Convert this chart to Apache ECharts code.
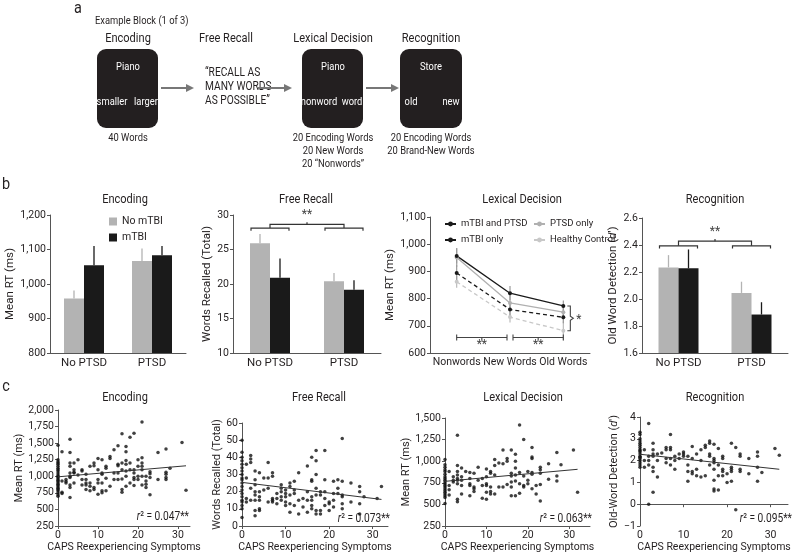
<!DOCTYPE html>
<html><head><meta charset="utf-8">
<script src="https://cdn.jsdelivr.net/npm/echarts@6/dist/echarts.min.js"></script>
<style>html,body{margin:0;padding:0;background:#fff}#c{width:795px;height:557px}</style>
</head><body><div id="c"></div>
<script>
const FONT = 'Roboto, "Liberation Sans", sans-serif';
const INK = '#231f20';
const GRAY = '#b3b3b3';
const BAR_W = 20;
const SQUEEZE = 0.85;

const groupCats = ['No PTSD', 'PTSD'];
const encNoTBI = [958, 1067];
const encNoTBIUpper = [981, 1103];
const encTBI = [1054, 1083];
const encTBIUpper = [1110, 1110];

const recallNoTBI = [25.9, 20.4];
const recallNoTBIUpper = [27.25, 21.6];
const recallTBI = [20.9, 19.15];
const recallTBIUpper = [23.7, 20.55];

const recogNoTBI = [2.234, 2.045];
const recogNoTBIUpper = [2.325, 2.128];
const recogTBI = [2.227, 1.885];
const recogTBIUpper = [2.367, 1.976];

const lexCats = ['Nonwords', 'New Words', 'Old Words'];
const lexBoth = [957, 820, 773];
const lexBothSE = [28, 26, 20];
const lexTBIOnly = [894, 760, 731];
const lexTBIOnlySE = [30, 25, 22];
const lexPTSDOnly = [951, 784, 750];
const lexPTSDOnlySE = [35, 30, 30];
const lexHC = [862, 732, 682];
const lexHCSE = [22, 20, 35];

const encodingPts = [
 [0,[1470,1250,1220,1200,1180,1150,1120,1100,1080,1050,1020,1000,980,960,940,920,900,880,860,840,820,800,780,750,720,700]],
 [1,[1370,930,760,740]],[2,[950,920,900]],
 [3,[1560,1360,1200,1150,1050,1000,980,870,830,680]],
 [4,[1200,1100,1060,1050,900]],[5,[1250,1020]],[6,[1100,1080,950,870]],
 [7,[1030,950,900,870,800]],[8,[1150,900,850,780]],[9,[1200,1160,830,800]],
 [10,[1270,1100,950,900,730]],[11,[1250,1050,1030,900,780,750]],[12,[1150,1120,970,780]],
 [13,[1300,1270,850]],[14,[1400,1050,950]],[15,[1460,1180,1160,1050,950]],
 [16,[1640,1200,1100,960,800,760]],[17,[1450,1370,1240,1180,1080,1000,850]],
 [18,[1590,1200,1100,900]],[19,[1650,1100,1050,980,950,860]],[20,[1250,1150,1000,950]],
 [21,[1820,1280,1200,1150,1100,1000,870]],[22,[1000,930,880,830]],[23,[1070,1040,980,720]],
 [25,[1360,950]],[27,[1410,1060,1030,980,950]],[28,[1120]],[31,[1510]],[32,[790]]
];
const recallPts = [
 [0,[50,43,40,38,36,34,32,30,28,27,25,23,21,19,17,15,14,12,10,5]],
 [1,[36,28,16,14]],[2,[41,39,37,22,15]],[3,[32,27,24,20,18,15,9,6]],
 [4,[31,20,17,15,10,9]],[5,[28,21]],[6,[37,28,22,14]],[7,[31,29,16,15,14]],
 [8,[19,16,13]],[9,[24,22,20,17,15]],[10,[21,19,17,14,12]],[11,[25,23,18,13,8]],
 [12,[26,21,19,12]],[13,[31,15,7]],[14,[16,11]],[15,[35,20,15,8]],
 [16,[40,27,26,17,15,12,10]],[17,[44,38,30,22,18,9,7]],[18,[20,18,9,7]],
 [19,[44,27,20,16,12]],[20,[14,13,9]],[21,[26,19,15,11]],[22,[27,22,19]],
 [23,[51,26,18,17,13,10]],[25,[25,14]],[27,[23,20,13,7]],[28,[17]],[31,[16]],[32,[23]]
];
const lexicalPts = [
 [0,[1020,960,930,900,880,850,820,800,780,760,740,720,700,680,660,640,620,600,580,510]],
 [1,[880,720,670,610]],[2,[820,780,760]],[3,[1300,950,880,840,800,780,740,560,530]],
 [4,[920,820,780,720,620]],[5,[880]],[6,[870,800,740,720,600]],[7,[860,700,680,650]],
 [8,[930,780]],[9,[800,720,570]],[10,[910,820,740,720,640,560]],[11,[880,860,700,650,620]],
 [12,[1020,950,840,620]],[13,[980,700]],[14,[1130,970,700]],[15,[1030,1000,730]],
 [16,[1130,860,830,760,700,600]],[17,[1080,1000,920,840,770,600]],[18,[1420,870,740,630]],
 [19,[1250,830,720,700]],[20,[880,780,740]],[21,[1160,1050,1030,870,850,680]],
 [22,[720,620]],[23,[930,900,860,730,540]],[25,[970,790]],[27,[1100,830,770]],
 [28,[960]],[31,[1130]],[32,[640]]
];
const recogPts = [
 [0,[3.3,3.2,3.0,2.9,2.8,2.7,2.6,2.5,2.45,2.4,2.3,2.2,2.15,2.1,2.0,1.9,1.8,1.7]],
 [1,[2.5,2.0,1.7]],[2,[3.7,2.2,2.0,1.8,0.0]],[3,[2.8,2.5,2.3,2.2,1.7,1.5,0.55]],
 [4,[2.3,2.0,1.25]],[5,[2.35]],[6,[2.6,2.5,2.1,1.9]],[7,[3.2,2.6,2.5,2.1,1.8]],
 [8,[2.2,2.0,1.6]],[9,[2.3,2.1]],[10,[2.4,2.3,2.2]],[11,[2.2,1.8,1.5,1.05]],
 [12,[2.65,2.1,1.5,1.4]],[13,[2.3,1.6,1.3]],[14,[2.5,2.0,1.25]],[15,[2.7,2.6,1.3]],
 [16,[2.9,2.8,2.3,2.2,1.8]],[17,[2.75,2.1,2.0,1.9,1.6,1.1,0.7,0.6]],[18,[2.55,1.8,1.3,0.65]],
 [19,[2.2,2.1,1.6,1.5,1.3]],[20,[1.4,1.0]],[21,[2.8,1.7,1.6,1.5,1.05]],[22,[2.6,-0.25]],
 [23,[2.3,2.2,1.6,1.5]],[25,[2.1,1.4]],[27,[2.4,2.2,1.7,1.05]],[28,[1.45]],[31,[2.55]],[32,[2.25]]
];
const encodingFit = [992, 5.2];
const recallFit = [25.4, -0.31];
const lexicalFit = [767, 4.35];
const recogFit = [2.29, -0.0215];
const fitEnd = 32;
const r2Labels = ['0.047**', '0.073**', '0.063**', '0.095**'];
const capsTicks = [0, 10, 20, 30];

function flat(g) { const o = []; g.forEach(([x, ys]) => ys.forEach(y => o.push([x, y]))); return o; }

const txt = (size) => ({ fontFamily: FONT, fontSize: size, color: INK });
const thousands = v => v.toLocaleString('en-US');
const F = (size, style) => (style ? style + ' ' : '') + size + 'px ' + FONT;

function yAx(gi, min, max, interval, name, gap, fmt, nameSize) {
  return {
    gridIndex: gi, type: 'value', min, max, interval,
    name, nameLocation: 'middle', nameGap: gap,
    nameTextStyle: Object.assign(txt(nameSize), { rich: { i: { fontFamily: FONT, fontSize: nameSize, fontStyle: 'italic', color: INK } } }),
    axisLine: { show: true, lineStyle: { color: '#555', width: 1 } },
    axisTick: { show: true, length: 3, lineStyle: { color: '#555' } },
    axisLabel: Object.assign(txt(10.5), { margin: 4, formatter: fmt }),
    splitLine: { show: false }
  };
}
function catAx(gi, data, size) {
  return {
    gridIndex: gi, type: 'category', data,
    axisLine: { show: true, lineStyle: { color: '#555' } },
    axisTick: { show: false },
    axisLabel: Object.assign(txt(size), { margin: 4, interval: 0 })
  };
}
function capsAx(gi, max) {
  return {
    gridIndex: gi, type: 'value', min: 0, max, interval: 10,
    name: 'CAPS Reexperiencing Symptoms', nameLocation: 'middle', nameGap: 15, nameTextStyle: txt(10.5),
    axisLine: { show: true, lineStyle: { color: '#555' } },
    axisTick: { show: true, length: 3, customValues: capsTicks, lineStyle: { color: '#555' } },
    axisLabel: Object.assign(txt(10.5), { margin: 4, customValues: capsTicks }),
    splitLine: { show: false }
  };
}

function barPair(gi, a, b) {
  return [
    { type: 'bar', name: 'No mTBI', xAxisIndex: gi, yAxisIndex: gi, data: a, barWidth: BAR_W, barGap: '0%', itemStyle: { color: GRAY }, silent: true },
    { type: 'bar', name: 'mTBI', xAxisIndex: gi, yAxisIndex: gi, data: b, barWidth: BAR_W, barGap: '0%', itemStyle: { color: '#1a1a1a' }, silent: true }
  ];
}
function barErr(gi, means, uppers, side, color) {
  return {
    type: 'custom', xAxisIndex: gi, yAxisIndex: gi, silent: true, z: 1,
    data: means.map((m, i) => [i, m, uppers[i]]),
    renderItem: (p, api) => {
      const a = api.coord([api.value(0), api.value(1)]);
      const b = api.coord([api.value(0), api.value(2)]);
      const x = a[0] + side * BAR_W / 2;
      return { type: 'line', shape: { x1: x, y1: a[1], x2: x, y2: b[1] }, style: { stroke: color, lineWidth: 1.3 } };
    }
  };
}
function pairBracket(gi, low, tickLow, high, top) {
  return {
    type: 'custom', xAxisIndex: gi, yAxisIndex: gi, silent: true, clip: false, data: [[0, low]],
    renderItem: (p, api) => {
      const a = api.coord([0, low]), b = api.coord([1, low]);
      const yL = a[1], yT = api.coord([0, tickLow])[1], yH = api.coord([0, high])[1], yS = api.coord([0, top])[1];
      const w = BAR_W - 1, mid = (a[0] + b[0]) / 2;
      const st = { stroke: '#333', lineWidth: 1.2, fill: null };
      return { type: 'group', children: [
        { type: 'polyline', shape: { points: [[a[0] - w, yT], [a[0] - w, yL], [a[0] + w, yL], [a[0] + w, yT]] }, style: st },
        { type: 'polyline', shape: { points: [[b[0] - w, yT], [b[0] - w, yL], [b[0] + w, yL], [b[0] + w, yT]] }, style: st },
        { type: 'polyline', shape: { points: [[a[0], yL], [a[0], yH], [b[0], yH], [b[0], yL]] }, style: st },
        { type: 'line', shape: { x1: mid, y1: yH, x2: mid, y2: yS }, style: st },
        { type: 'text', style: { text: '**', x: mid, y: yS - 1, align: 'center', verticalAlign: 'bottom', fill: '#444', font: F(12) } }
      ] };
    }
  };
}
function lexErr(vals, ses, color) {
  return {
    type: 'custom', xAxisIndex: 2, yAxisIndex: 2, silent: true, z: 1,
    data: vals.map((v, i) => [i, v - ses[i], v + ses[i]]),
    renderItem: (p, api) => {
      const a = api.coord([api.value(0), api.value(1)]);
      const b = api.coord([api.value(0), api.value(2)]);
      return { type: 'line', shape: { x1: a[0], y1: a[1], x2: b[0], y2: b[1] }, style: { stroke: color, lineWidth: 1.2 } };
    }
  };
}
const LEX_BRACKET = 657, LEX_STARS = 628;
const lexAnnot = {
  type: 'custom', xAxisIndex: 2, yAxisIndex: 2, silent: true, clip: false, data: [[0, LEX_BRACKET]],
  renderItem: (p, api) => {
    const p0 = api.coord([0, LEX_BRACKET]), p1 = api.coord([1, LEX_BRACKET]), p2 = api.coord([2, LEX_BRACKET]);
    const y = p0[1], ys = api.coord([0, LEX_STARS])[1];
    const st = { stroke: '#444', lineWidth: 1.1, fill: null };
    const kids = [];
    [[p0[0], p1[0] - 3], [p1[0] + 3, p2[0]]].forEach(([x1, x2]) => {
      kids.push({ type: 'line', shape: { x1, y1: y, x2, y2: y }, style: st });
      kids.push({ type: 'line', shape: { x1, y1: y - 3, x2: x1, y2: y + 3 }, style: st });
      kids.push({ type: 'line', shape: { x1: x2, y1: y - 3, x2: x2, y2: y + 3 }, style: st });
      const m = (x1 + x2) / 2;
      kids.push({ type: 'line', shape: { x1: m, y1: y, x2: m, y2: y + 3 }, style: st });
      kids.push({ type: 'text', style: { text: '**', x: m, y: ys, align: 'center', verticalAlign: 'middle', fill: '#444', font: F(12) } });
    });
    const yt = api.coord([2, lexBoth[2]])[1], yb = api.coord([2, lexHC[2]])[1], ym = (yt + yb) / 2;
    const bx = p2[0] + 4;
    kids.push({ type: 'polyline', shape: { points: [[bx, yt], [bx + 3, yt], [bx + 3, ym - 2], [bx + 6, ym], [bx + 3, ym + 2], [bx + 3, yb], [bx, yb]] }, style: st });
    kids.push({ type: 'text', style: { text: '*', x: bx + 9, y: ym + 2, align: 'left', verticalAlign: 'middle', fill: '#444', font: F(12) } });
    return { type: 'group', children: kids };
  }
};
function lexLine(name, data, color, dashed) {
  return {
    type: 'line', name, xAxisIndex: 2, yAxisIndex: 2, data, silent: true,
    symbol: 'circle', symbolSize: 4, itemStyle: { color },
    lineStyle: { color, width: 1.3, type: dashed ? [4, 3] : 'solid' }, z: 3
  };
}
function scatterS(gi, pts, fit) {
  return [
    { type: 'scatter', xAxisIndex: gi, yAxisIndex: gi, data: flat(pts), symbolSize: 3.5, itemStyle: { color: '#111' }, silent: true },
    { type: 'line', xAxisIndex: gi, yAxisIndex: gi, data: [[0, fit[0]], [fitEnd, fit[0] + fit[1] * fitEnd]], symbol: 'none', lineStyle: { color: '#333', width: 1 }, silent: true }
  ];
}

const G = [];
function T(x, y, text, size, opts) {
  G.push({ type: 'text', x, y, scaleX: SQUEEZE, silent: true, style: Object.assign({ text, font: F(size), fill: INK, align: 'center', verticalAlign: 'middle' }, opts || {}) });
}
function box(x, y, w, h) { G.push({ type: 'rect', shape: { x, y, width: w, height: h, r: 9 }, style: { fill: '#231f20' }, silent: true }); }
function arrow(x1, x2, y) {
  G.push({ type: 'line', shape: { x1, y1: y, x2: x2 - 6, y2: y }, style: { stroke: '#777', lineWidth: 2 }, silent: true });
  G.push({ type: 'polygon', shape: { points: [[x2, y], [x2 - 8, y - 4], [x2 - 8, y + 4]] }, style: { fill: '#777' }, silent: true });
}
T(78, 9, 'a', 17);
T(95, 21, 'Example Block (1 of 3)', 11, { align: 'left' });
T(128, 39, 'Encoding', 13); T(226, 39, 'Free Recall', 13); T(333, 39, 'Lexical Decision', 13); T(431, 39, 'Recognition', 13);
box(97, 49, 61, 79); box(302, 49, 61, 79); box(400, 49, 62, 79);
T(128, 67, 'Piano', 11, { fill: '#fff' }); T(112, 102, 'smaller', 11, { fill: '#fff' }); T(146, 102, 'larger', 11, { fill: '#fff' });
T(333, 67, 'Piano', 11, { fill: '#fff' }); T(319, 102, 'nonword', 11, { fill: '#fff' }); T(352, 102, 'word', 11, { fill: '#fff' });
T(431, 67, 'Store', 11, { fill: '#fff' }); T(411, 102, 'old', 11, { fill: '#fff' }); T(451, 102, 'new', 11, { fill: '#fff' });
T(128, 138, '40 Words', 11);
T(333, 138, '20 Encoding Words', 11); T(333, 151, '20 New Words', 11); T(333, 164, '20 \u201cNonwords\u201d', 11);
T(431, 138, '20 Encoding Words', 11); T(431, 151, '20 Brand-New Words', 11);
T(205, 73, '\u201cRECALL AS', 12, { align: 'left' }); T(205, 87, 'MANY WORDS', 12, { align: 'left' }); T(205, 101, 'AS POSSIBLE\u201d', 12, { align: 'left' });
arrow(161, 194, 88); arrow(258, 292, 88); arrow(366, 399, 88);
T(6, 185, 'b', 17); T(6, 387, 'c', 17);
T(125, 200, 'Encoding', 13); T(306, 200, 'Free Recall', 13); T(522, 200, 'Lexical Decision', 13); T(715, 200, 'Recognition', 13);
T(125, 398, 'Encoding', 13); T(319, 398, 'Free Recall', 13); T(523, 398, 'Lexical Decision', 13); T(715, 398, 'Recognition', 13);
const r2Pos = [[189, 517], [390, 519], [592, 519], [792, 519]];
r2Labels.forEach((lab, i) => {
  G.push({ type: 'text', x: r2Pos[i][0], y: r2Pos[i][1], scaleX: SQUEEZE, silent: true, style: {
    text: '{i|r}\u00b2 = ' + lab, font: F(12), fill: INK, align: 'right', verticalAlign: 'middle',
    rich: { i: { fontFamily: FONT, fontSize: 12, fontStyle: 'italic', fill: INK, color: INK } } } });
});

const option = {
  animation: false,
  backgroundColor: '#fff',
  textStyle: { fontFamily: FONT },
  grid: [
    { left: 50, top: 215, width: 136, height: 138 },
    { left: 233, top: 215, width: 148, height: 138 },
    { left: 430, top: 217, width: 160, height: 136 },
    { left: 642, top: 218, width: 146, height: 135 },
    { left: 58, top: 410, width: 132, height: 116 },
    { left: 242, top: 423, width: 146, height: 103 },
    { left: 445, top: 418, width: 145, height: 108 },
    { left: 640, top: 417, width: 148, height: 109 }
  ],
  xAxis: [
    catAx(0, groupCats, 11.5), catAx(1, groupCats, 11.5), catAx(2, lexCats, 10.5), catAx(3, groupCats, 11.5),
    capsAx(4, 33), capsAx(5, 33.5), capsAx(6, 35), capsAx(7, 34)
  ],
  yAxis: [
    yAx(0, 800, 1200, 100, 'Mean RT (ms)', 32, thousands, 11.5),
    yAx(1, 10, 30, 5, 'Words Recalled (Total)', 19, v => String(v), 11.5),
    yAx(2, 600, 1100, 100, 'Mean RT (ms)', 32, thousands, 11.5),
    yAx(3, 1.6, 2.6, 0.2, 'Old Word Detection ({i|d}\u2032)', 22, v => v.toFixed(1), 11.5),
    yAx(4, 250, 2000, 250, 'Mean RT (ms)', 32, thousands, 11),
    yAx(5, 0, 60, 10, 'Words Recalled (Total)', 18, v => String(v), 11),
    yAx(6, 250, 1500, 250, 'Mean RT (ms)', 32, thousands, 11),
    yAx(7, -1, 4, 1, 'Old-Word Detection ({i|d}\u2032)', 20, v => v < 0 ? '\u2212' + Math.abs(v) : String(v), 11)
  ],
  legend: [
    { data: ['No mTBI', 'mTBI'], orient: 'vertical', left: 104, top: 211, itemWidth: 8, itemHeight: 8, itemGap: 5, textStyle: txt(10.5), selectedMode: false, icon: 'rect' },
    { data: ['mTBI and PTSD', 'mTBI only'], orient: 'vertical', left: 439, top: 214, itemWidth: 11, itemHeight: 6, itemGap: 6, textStyle: txt(9.5), selectedMode: false },
    { data: ['PTSD only', 'Healthy Control'], orient: 'vertical', left: 528, top: 214, itemWidth: 11, itemHeight: 6, itemGap: 6, textStyle: txt(9.5), selectedMode: false }
  ],
  graphic: G,
  series: [].concat(
    barPair(0, encNoTBI, encTBI),
    [barErr(0, encNoTBI, encNoTBIUpper, -1, GRAY), barErr(0, encTBI, encTBIUpper, 1, '#1a1a1a')],
    barPair(1, recallNoTBI, recallTBI),
    [barErr(1, recallNoTBI, recallNoTBIUpper, -1, GRAY), barErr(1, recallTBI, recallTBIUpper, 1, '#1a1a1a')],
    [pairBracket(1, 28.1, 27.7, 28.65, 28.95)],
    barPair(3, recogNoTBI, recogTBI),
    [barErr(3, recogNoTBI, recogNoTBIUpper, -1, GRAY), barErr(3, recogTBI, recogTBIUpper, 1, '#1a1a1a')],
    [pairBracket(3, 2.394, 2.374, 2.428, 2.445)],
    [lexErr(lexPTSDOnly, lexPTSDOnlySE, '#aaa'), lexErr(lexHC, lexHCSE, '#bbb'), lexErr(lexBoth, lexBothSE, '#999'), lexErr(lexTBIOnly, lexTBIOnlySE, '#999')],
    [lexLine('Healthy Control', lexHC, '#c8c8c8', true), lexLine('PTSD only', lexPTSDOnly, '#b0b0b0', false),
     lexLine('mTBI only', lexTBIOnly, '#1a1a1a', true), lexLine('mTBI and PTSD', lexBoth, '#1a1a1a', false)],
    [lexAnnot],
    scatterS(4, encodingPts, encodingFit),
    scatterS(5, recallPts, recallFit),
    scatterS(6, lexicalPts, lexicalFit),
    scatterS(7, recogPts, recogFit)
  )
};
const chart = echarts.init(document.getElementById('c'), null, { renderer: 'canvas' });
chart.setOption(option);
</script>
</body></html>
